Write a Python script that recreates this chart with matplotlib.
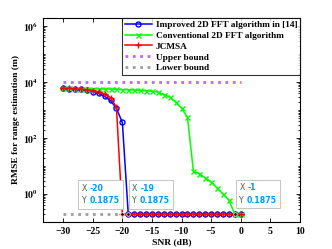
import numpy as np
import matplotlib
matplotlib.use("Agg")
import matplotlib.pyplot as plt
from matplotlib.offsetbox import TextArea, HPacker, VPacker, AnnotationBbox
from matplotlib.ticker import LogLocator, NullFormatter, FixedLocator

snr = list(range(-30, 1))
improved = [6000, 5900, 5700, 5500, 5100, 4600, 4000, 3100, 2200, 1150, 360] + [0.1875] * 20
conventional = [6000, 5950, 5900, 5850, 5800, 5750, 5700, 5650, 5600, 5500, 5400, 5300, 5200, 5050, 4900, 4700,
                4400, 3600, 2900, 1900, 1150, 550, 6.5, 5.4, 3.8, 2.7, 1.65, 1.0, 0.6, 0.1875, 0.1875]
jcmsa = [6000, 5950, 5800, 5600, 5300, 5000, 4500, 3700, 2800, 1250] + [0.1875] * 21
upper = [1.0e4] * 31
lower = [0.1875] * 31
legend_labels = ["Improved 2D FFT algorithm in [14]", "Conventional 2D FFT algorithm", "JCMSA",
                 "Upper bound", "Lower bound"]
tips = [(-20, 0.1875), (-19, 0.1875), (-1, 0.1875)]

plt.rcParams['font.family'] = ['Liberation Serif', 'DejaVu Serif']
plt.rcParams['font.weight'] = 'bold'
plt.rcParams['mathtext.fontset'] = 'stix'

fig = plt.figure(figsize=(3.32, 2.49), dpi=100)
ax = fig.add_axes([43/332, 1-222/249, (300-43)/332, (222-17.7)/249])

lw = 1.1
h1, = ax.plot(snr, improved, '-o', color=(0, 0, 1), lw=lw, ms=3.6, mfc='none', mew=1.0, zorder=3)
h2, = ax.plot(snr, conventional, '-x', color=(0, 1, 0), lw=lw, ms=3.6, mew=1.0, zorder=4)
h3, = ax.plot(snr, jcmsa, '-+', color=(1, 0, 0), lw=lw, ms=4.0, mew=1.0, zorder=5)
h4, = ax.plot(snr, upper, ':', color=(0.75, 0.4, 1.0), lw=2.0, zorder=2)
h5, = ax.plot(snr, lower, ':', color=(0.62, 0.62, 0.62), lw=2.0, zorder=2)

ax.set_yscale('log')
ax.set_xlim(-33.4, 10)
ax.set_ylim(0.1, 2e6)
ax.set_xticks(range(-30, 11, 5))
ax.yaxis.set_major_locator(FixedLocator([1, 1e2, 1e4, 1e6]))
ax.set_yticklabels([r'$\mathbf{10^{0}}$', r'$\mathbf{10^{2}}$', r'$\mathbf{10^{4}}$', r'$\mathbf{10^{6}}$'])
ax.yaxis.set_minor_locator(LogLocator(base=10, subs=np.arange(1, 10), numticks=20))
ax.yaxis.set_minor_formatter(NullFormatter())
ax.tick_params(axis='both', which='both', direction='in', top=True, right=True, labelsize=7, width=0.6)
ax.tick_params(axis='both', which='major', length=3)
ax.tick_params(axis='y', which='minor', length=1.6)
for s in ax.spines.values():
    s.set_linewidth(0.8)
ax.set_xlabel('SNR (dB)', fontsize=6.8, fontweight='bold', labelpad=2)
ax.set_ylabel('RMSE for range estimation (m)', fontsize=6.8, fontweight='bold', labelpad=2)

leg = ax.legend([h1, h2, h3, h4, h5], legend_labels, loc='upper right', fontsize=6.7,
                frameon=True, fancybox=False, edgecolor='black', borderaxespad=0,
                handlelength=3.0, handletextpad=0.35, labelspacing=0.25, borderpad=0.3)
leg.get_frame().set_linewidth(0.8)

tip_fp = dict(fontsize=5.6, family='DejaVu Sans')
offsets = [(-2.2, 6.5, (1, 0)), (2.8, 6.5, (0, 0)), (3.2, 6.8, (0, 0))]
for (tx, ty), (dx, dy, al) in zip(tips, offsets):
    ax.plot([tx], [ty], 'o', ms=2.6, mfc=(0.1, 0.1, 0.1), mec='white', mew=0.5, zorder=8)
    r1 = HPacker(children=[TextArea('X', textprops=dict(color='#555555', fontweight='normal', **tip_fp)),
                           TextArea('%d' % tx, textprops=dict(color='#0099ff', fontweight='bold', **tip_fp))],
                 pad=0, sep=2)
    r2 = HPacker(children=[TextArea('Y', textprops=dict(color='#555555', fontweight='normal', **tip_fp)),
                           TextArea('%.4f' % ty, textprops=dict(color='#0099ff', fontweight='bold', **tip_fp))],
                 pad=0, sep=2)
    vb = VPacker(children=[r1, r2], pad=0, sep=2.5, align='left')
    ab = AnnotationBbox(vb, (tx, ty), xybox=(dx, dy), xycoords='data', boxcoords='offset points',
                        box_alignment=al, pad=0.25, frameon=True,
                        bboxprops=dict(edgecolor='#bbbbbb', facecolor='white', lw=0.6),
                        zorder=9)
    ax.add_artist(ab)

fig.savefig('out.png', dpi=100)
